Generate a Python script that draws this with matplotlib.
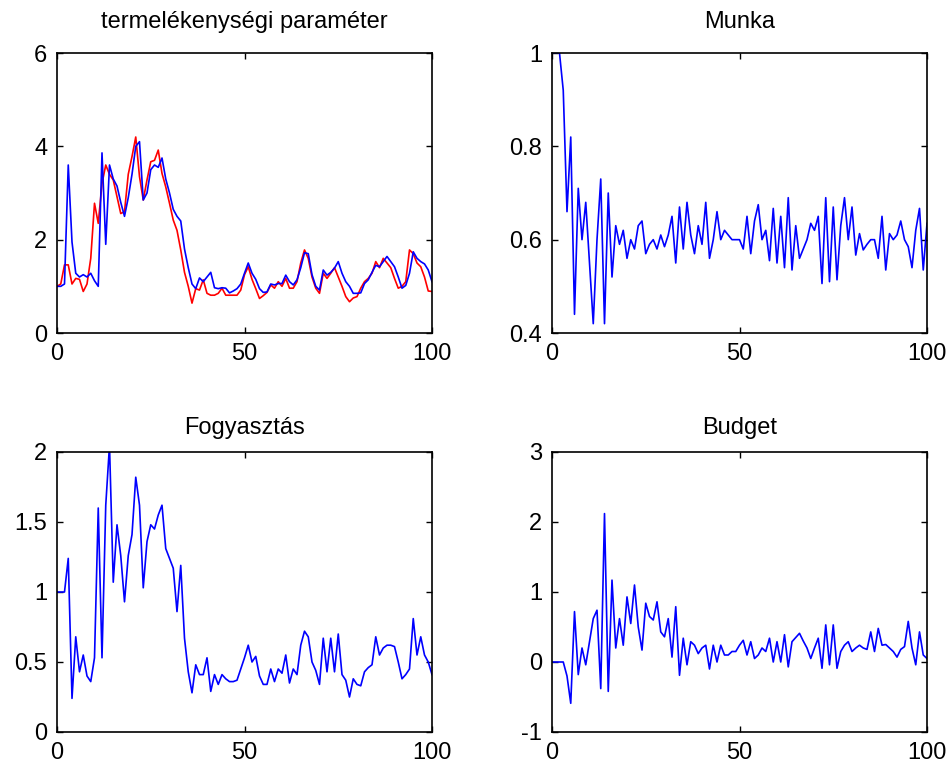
import numpy as np
import matplotlib
matplotlib.use("Agg")
import matplotlib.pyplot as plt
from matplotlib.ticker import FormatStrFormatter

plt.rcParams['font.family'] = ['Liberation Sans', 'DejaVu Sans']

# time index 0..100
t = np.arange(101)

prod_blue = [1.0, 1.0, 1.05, 3.6, 1.95, 1.28, 1.2, 1.25, 1.2, 1.28,
             1.12, 1.0, 3.86, 1.9, 3.6, 3.3, 3.15, 2.8, 2.5, 2.9,
             3.4, 4.0, 4.1, 2.85, 3.0, 3.5, 3.6, 3.55, 3.75, 3.3,
             3.0, 2.65, 2.5, 2.4, 1.8, 1.4, 1.05, 0.95, 1.18, 1.1,
             1.2, 1.3, 0.97, 0.95, 0.97, 0.96, 0.86, 0.9, 0.95, 1.05,
             1.28, 1.5, 1.28, 1.15, 0.95, 0.87, 0.88, 1.05, 1.03, 1.06,
             1.06, 1.24, 1.1, 1.03, 1.14, 1.4, 1.72, 1.7, 1.25, 1.0,
             0.92, 1.35, 1.24, 1.3, 1.39, 1.53, 1.28, 1.1, 1.0, 0.85,
             0.85, 0.86, 1.06, 1.14, 1.3, 1.45, 1.42, 1.53, 1.64, 1.53,
             1.42, 1.2, 0.96, 1.02, 1.28, 1.74, 1.6, 1.53, 1.48, 1.35,
             1.1]

prod_red = [1.0, 1.05, 1.46, 1.46, 1.05, 1.17, 1.15, 0.89, 1.05, 1.6,
            2.78, 2.35, 3.2, 3.6, 3.4, 3.28, 2.92, 2.56, 2.6, 3.4,
            3.78, 4.2, 3.35, 2.85, 3.28, 3.67, 3.7, 3.92, 3.42, 3.13,
            2.78, 2.42, 2.2, 1.78, 1.3, 1.0, 0.64, 0.95, 0.92, 1.14,
            0.85, 0.81, 0.81, 0.85, 0.96, 0.81, 0.81, 0.81, 0.81, 0.92,
            1.25, 1.42, 1.15, 0.95, 0.74, 0.8, 0.87, 1.03, 0.96, 1.1,
            1.0, 1.17, 0.96, 0.96, 1.1, 1.5, 1.78, 1.6, 1.2, 0.96,
            0.85, 1.28, 1.17, 1.28, 1.4, 1.2, 1.0, 0.78, 0.67, 0.75,
            0.78, 0.96, 1.1, 1.17, 1.28, 1.53, 1.4, 1.6, 1.5, 1.4,
            1.17, 0.96, 1.0, 1.1, 1.78, 1.7, 1.5, 1.42, 1.2, 0.9,
            0.89]

munka = [1.0, 1.0, 1.0, 0.92, 0.66, 0.82, 0.44, 0.71, 0.6, 0.68,
         0.55, 0.42, 0.6, 0.73, 0.42, 0.7, 0.52, 0.63, 0.59, 0.62,
         0.56, 0.6, 0.58, 0.63, 0.64, 0.57, 0.59, 0.6, 0.58, 0.61,
         0.585, 0.61, 0.65, 0.55, 0.67, 0.58, 0.68, 0.61, 0.57, 0.63,
         0.59, 0.68, 0.56, 0.6, 0.66, 0.6, 0.62, 0.61, 0.6, 0.6,
         0.6, 0.58, 0.65, 0.57, 0.64, 0.675, 0.6, 0.62, 0.555, 0.667,
         0.55, 0.65, 0.54, 0.69, 0.535, 0.63, 0.56, 0.58, 0.6, 0.635,
         0.62, 0.65, 0.506, 0.69, 0.51, 0.67, 0.514, 0.63, 0.69, 0.6,
         0.67, 0.567, 0.613, 0.578, 0.59, 0.6, 0.6, 0.56, 0.65, 0.535,
         0.613, 0.6, 0.61, 0.64, 0.6, 0.585, 0.54, 0.62, 0.667, 0.535,
         0.635]

fogy = [1.0, 1.0, 1.0, 1.24, 0.24, 0.68, 0.43, 0.55, 0.4, 0.36,
        0.53, 1.6, 0.53, 1.62, 2.05, 1.07, 1.48, 1.26, 0.93, 1.26,
        1.41, 1.82, 1.62, 1.03, 1.36, 1.48, 1.45, 1.55, 1.62, 1.31,
        1.24, 1.17, 0.86, 1.19, 0.67, 0.43, 0.28, 0.48, 0.41, 0.41,
        0.53, 0.29, 0.41, 0.34, 0.41, 0.38, 0.36, 0.36, 0.37, 0.45,
        0.53, 0.62, 0.5, 0.54, 0.4, 0.34, 0.34, 0.45, 0.36, 0.45,
        0.42, 0.55, 0.35, 0.45, 0.41, 0.62, 0.72, 0.68, 0.5, 0.44,
        0.34, 0.67, 0.43, 0.67, 0.43, 0.7, 0.41, 0.37, 0.25, 0.38,
        0.34, 0.33, 0.43, 0.46, 0.48, 0.68, 0.55, 0.6, 0.62, 0.62,
        0.61, 0.5, 0.38, 0.41, 0.45, 0.81, 0.55, 0.68, 0.55, 0.5,
        0.41]

budget = [0, 0, 0, 0, -0.2, -0.59, 0.72, -0.18, 0.2, -0.04,
          0.29, 0.62, 0.74, -0.38, 2.12, -0.42, 1.17, 0.2, 0.62, 0.24,
          0.93, 0.55, 1.1, 0.5, 0.17, 0.84, 0.65, 0.6, 0.86, 0.43,
          0.36, 0.62, 0.07, 0.79, -0.19, 0.34, -0.04, 0.29, 0.24, 0.12,
          0.2, 0.24, -0.1, 0.24, 0.0, 0.24, 0.1, 0.1, 0.15, 0.15,
          0.24, 0.31, 0.1, 0.29, 0.05, 0.1, 0.2, 0.15, 0.34, 0.0,
          0.29, 0.0, 0.39, -0.07, 0.29, 0.35, 0.41, 0.3, 0.2, 0.05,
          0.2, 0.34, -0.09, 0.53, -0.04, 0.53, -0.09, 0.15, 0.24, 0.29,
          0.15, 0.2, 0.24, 0.2, 0.18, 0.43, 0.15, 0.48, 0.24, 0.25,
          0.2, 0.15, 0.07, 0.18, 0.22, 0.58, 0.2, -0.04, 0.43, 0.1,
          0.05]

titles = ['termelékenységi paraméter', 'Munka', 'Fogyasztás', 'Budget']
ylims = [(0, 6), (0.4, 1), (0, 2), (-1, 3)]
yticks = [[0, 2, 4, 6], [0.4, 0.6, 0.8, 1], [0, 0.5, 1, 1.5, 2], [-1, 0, 1, 2, 3]]
title_pads = [18, 18, 13, 13]

fig = plt.figure(figsize=(9.49, 7.69), dpi=100)
W, H = 949, 769
boxes = [(57, 53), (552, 53), (57, 452), (552, 452)]
axs = [fig.add_axes([x0 / W, 1 - (y0 + 280) / H, 375 / W, 280 / H]) for x0, y0 in boxes]

axs[0].plot(t, prod_red, color='#ff0000', lw=1.2)
axs[0].plot(t, prod_blue, color='#0000ff', lw=1.2)
axs[1].plot(t, munka, color='#0000ff', lw=1.2)
axs[2].plot(t, fogy, color='#0000ff', lw=1.2)
axs[3].plot(t, budget, color='#0000ff', lw=1.2)

for ax, title, yl, yt, tp in zip(axs, titles, ylims, yticks, title_pads):
    ax.set_xlim(0, 100)
    ax.set_ylim(*yl)
    ax.set_xticks([0, 50, 100])
    ax.set_yticks(yt)
    ax.yaxis.set_major_formatter(FormatStrFormatter('%g'))
    ax.tick_params(direction='in', length=4, width=1, top=True, right=True,
                   labelsize=17, pad=7, colors='black')
    for s in ax.spines.values():
        s.set_linewidth(1.2)
    ax.set_title(title, fontsize=17, pad=tp)

fig.savefig('out.png', dpi=100, facecolor='white')
